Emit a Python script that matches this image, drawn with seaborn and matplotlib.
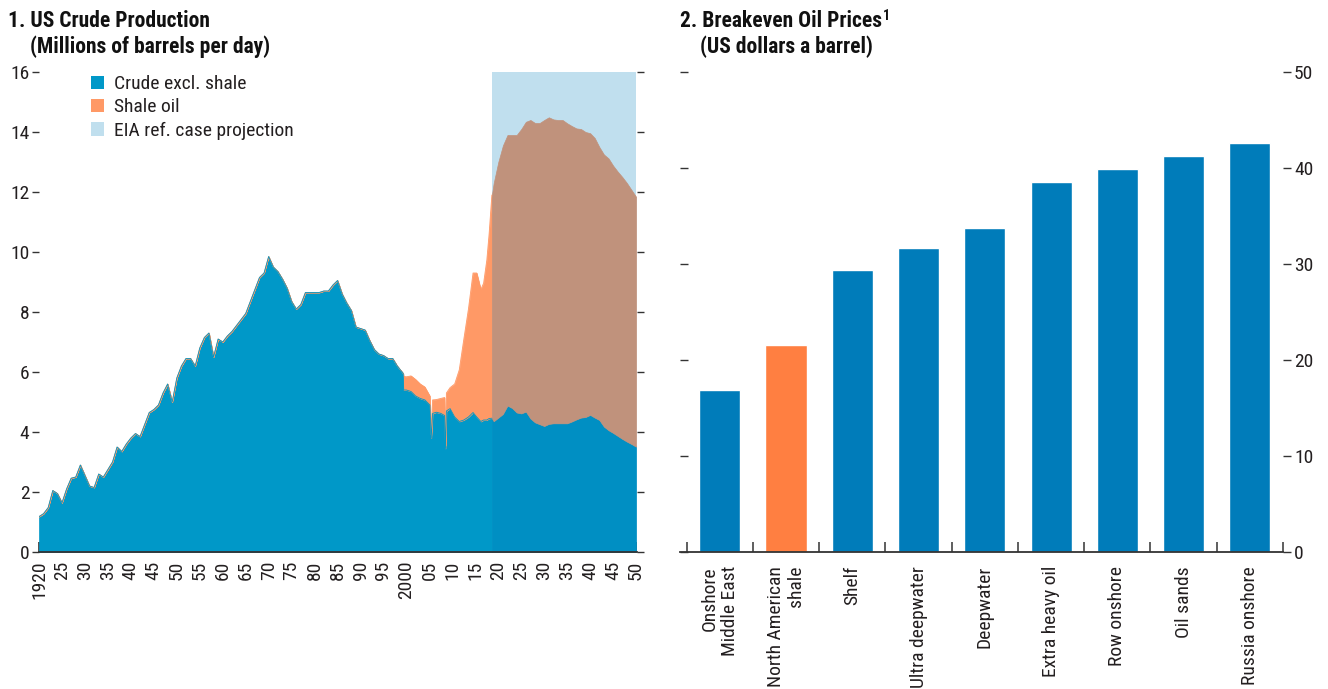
import numpy as np
import pandas as pd
import matplotlib
matplotlib.use("Agg")
import matplotlib.pyplot as plt
from matplotlib.patches import Patch
from matplotlib.ticker import FixedLocator
from matplotlib import font_manager as fm
import seaborn as sns

# ---------------- Panel 1 data: US crude production (mb/d) ----------------
hist_years = [1920, 1921, 1922, 1923, 1924, 1925, 1926, 1927, 1928, 1929,
              1930, 1931, 1932, 1933, 1934, 1935, 1936, 1937, 1938, 1939,
              1940, 1941, 1942, 1943, 1944, 1945, 1946, 1947, 1948, 1949,
              1950, 1951, 1952, 1953, 1954, 1955, 1956, 1957, 1958, 1959,
              1960, 1961, 1962, 1963, 1964, 1965, 1966, 1967, 1968, 1969,
              1970, 1971, 1972, 1973, 1974, 1975, 1976, 1977, 1978, 1979,
              1980, 1981, 1982, 1983, 1984, 1985, 1986, 1987, 1988, 1989,
              1990, 1991, 1992, 1993, 1994, 1995, 1996, 1997, 1998, 1999.3,
              1999.4, 2000, 2001, 2002, 2003, 2004, 2005.1, 2005.4, 2005.7, 2006.5,
              2007.5, 2008.3, 2008.5, 2008.7, 2009.5, 2010.5, 2011.5, 2012.5, 2013.5, 2014.5,
              2015.3, 2016.2, 2016.8, 2017.5, 2018.0, 2018.6]
crude_hist = [1.18, 1.28, 1.48, 2.05, 1.95, 1.64, 2.10, 2.46, 2.50, 2.90,
              2.55, 2.20, 2.15, 2.60, 2.50, 2.75, 3.00, 3.50, 3.35, 3.60,
              3.80, 3.95, 3.85, 4.25, 4.65, 4.75, 4.90, 5.30, 5.60, 5.00,
              5.80, 6.20, 6.45, 6.45, 6.20, 6.80, 7.15, 7.30, 6.50, 7.10,
              7.00, 7.20, 7.35, 7.55, 7.75, 7.95, 8.35, 8.75, 9.15, 9.30,
              9.85, 9.50, 9.35, 9.10, 8.80, 8.35, 8.10, 8.25, 8.65, 8.65,
              8.65, 8.65, 8.70, 8.70, 8.90, 9.05, 8.60, 8.30, 8.05, 7.50,
              7.45, 7.40, 7.05, 6.75, 6.60, 6.55, 6.45, 6.45, 6.20, 5.95,
              5.40, 5.40, 5.35, 5.20, 5.12, 5.07, 4.90, 3.80, 4.62, 4.66,
              4.62, 4.55, 3.45, 4.70, 4.78, 4.50, 4.35, 4.40, 4.50, 4.65,
              4.50, 4.35, 4.40, 4.40, 4.45, 4.46]
shale_hist = [0] * 79 + [0.0,
              0.45, 0.44, 0.52, 0.55, 0.48, 0.43, 0.30, 0.10, 0.45, 0.42,
              0.50, 0.60, 0.10, 0.60, 0.70, 1.10, 1.72, 2.70, 3.60, 4.65,
              4.80, 4.40, 4.56, 5.33, 6.15, 7.44]

proj_years = [2018.6, 2019, 2020, 2021, 2022, 2023, 2024, 2025, 2026, 2027,
              2028, 2029, 2030, 2031, 2032, 2033, 2034, 2035, 2036, 2037,
              2038, 2039, 2040, 2041, 2042, 2043, 2044, 2045, 2046, 2047,
              2048, 2049, 2050]
crude_proj = [4.46, 4.36, 4.48, 4.60, 4.88, 4.80, 4.65, 4.62, 4.68, 4.45,
              4.32, 4.26, 4.20, 4.27, 4.29, 4.29, 4.29, 4.29, 4.35, 4.42,
              4.48, 4.50, 4.57, 4.48, 4.40, 4.18, 4.06, 3.97, 3.87, 3.77,
              3.68, 3.60, 3.51]
shale_proj = [7.44, 7.94, 8.52, 8.95, 9.02, 9.10, 9.25, 9.48, 9.66, 9.95,
              9.98, 10.04, 10.20, 10.22, 10.13, 10.11, 10.11, 10.00, 9.85, 9.70,
              9.62, 9.50, 9.39, 9.32, 9.10, 9.07, 9.06, 8.91, 8.81, 8.73,
              8.62, 8.47, 8.33]

x_ticks = list(range(1920, 2051, 5))
x_ticklabels = ["1920", "25", "30", "35", "40", "45", "50", "55", "60", "65", "70",
                "75", "80", "85", "90", "95", "2000", "05", "10", "15", "20",
                "25", "30", "35", "40", "45", "50"]
y1_ticks = [0, 2, 4, 6, 8, 10, 12, 14, 16]
legend_labels = ["Crude excl. shale", "Shale oil", "EIA ref. case projection"]

# ---------------- Panel 2 data: breakeven oil prices ----------------
categories = ["Onshore\nMiddle East", "North American\nshale", "Shelf",
              "Ultra deepwater", "Deepwater", "Extra heavy oil",
              "Row onshore", "Oil sands", "Russia onshore"]
breakeven = [16.9, 21.6, 29.4, 31.7, 33.8, 38.5, 39.9, 41.3, 42.6]
y2_ticks = [0, 10, 20, 30, 40, 50]

# ---------------- Styling ----------------
BLUE = "#0098C8"
BLUE_PROJ = "#008FC3"
ORANGE = "#FF9966"
BROWN = "#C0927C"
LIGHTBLUE = "#C0DFEE"
BAR_BLUE = "#007CBA"
BAR_ORANGE = "#FF7F41"
TXT = "#231F20"
AX = "#333333"

sns.set_theme(style="white")
names = {f.name for f in fm.fontManager.ttflist}
fam_list = []
for cand in ["Liberation Sans Narrow", "Roboto Condensed", "Open Sans Condensed"]:
    if cand in names:
        fam_list.append(cand)
fam_list.append("DejaVu Sans")
plt.rcParams["font.family"] = fam_list
plt.rcParams["font.stretch"] = "condensed"
plt.rcParams["axes.facecolor"] = "none"

W, H = 1328, 689
fig = plt.figure(figsize=(W / 100, H / 100), dpi=100)


def px_axes(left, right, top, bottom):
    return fig.add_axes([left / W, 1 - bottom / H, (right - left) / W, (bottom - top) / H])


FS = 14

# ---------------- Panel 1 ----------------
ax1 = px_axes(39, 637, 72, 552)
hy = np.array(hist_years)
ch = np.array(crude_hist)
sh = np.array(shale_hist)
py = np.array(proj_years)
cp = np.array(crude_proj)
sp = np.array(shale_proj)

ax1.axvspan(py[0], py[-1], ymin=0, ymax=1, color=LIGHTBLUE, lw=0, zorder=0)
ax1.fill_between(hy, 0, ch, facecolor=BLUE, edgecolor=BLUE, lw=0.5, zorder=2)
ax1.fill_between(hy, ch, ch + sh, facecolor=ORANGE, edgecolor=ORANGE, lw=0.5, zorder=2)
ax1.fill_between(py, 0, cp, facecolor=BLUE_PROJ, edgecolor=BLUE_PROJ, lw=0.5, zorder=2.5)
ax1.fill_between(py, cp, cp + sp, facecolor=BROWN, edgecolor=BROWN, lw=0.5, zorder=2.5)
sns.lineplot(x=hy, y=ch + sh, ax=ax1, color=ORANGE, lw=0.6, zorder=3)
sns.lineplot(x=hy, y=ch, ax=ax1, color=BLUE, lw=0.6, zorder=3)

ax1.set_xlim(1920, 2050.2)
ax1.set_ylim(0, 16)
ax1.set_xticks(x_ticks)
ax1.set_xticklabels(x_ticklabels, rotation=90, fontsize=FS, color=TXT, va="top")
ax1.set_yticks(y1_ticks)
ax1.set_yticklabels([str(v) for v in y1_ticks], fontsize=FS, color=TXT)
ax1.tick_params(axis="x", direction="in", length=7, width=1.2, color=AX, pad=6, bottom=True)
ax1.tick_params(axis="y", direction="out", length=5, width=1.0, color=AX, pad=2,
                left=True, right=True, labelright=False)
for s in ["top", "left", "right"]:
    ax1.spines[s].set_visible(False)
ax1.spines["bottom"].set_color(AX)
ax1.spines["bottom"].set_linewidth(1.3)
ax1.spines["bottom"].set_zorder(5)
ax1.set_xlabel("")
ax1.set_ylabel("")
ax1.grid(False)

handles = [Patch(facecolor=BLUE, edgecolor="none"),
           Patch(facecolor=ORANGE, edgecolor="none"),
           Patch(facecolor=LIGHTBLUE, edgecolor="none")]
leg = ax1.legend(handles, legend_labels, loc="upper left",
                 bbox_to_anchor=(91 / W, 1 - 75 / H), bbox_transform=fig.transFigure,
                 frameon=False, fontsize=FS, handlelength=0.68, handleheight=0.68,
                 handletextpad=0.5, labelspacing=0.28, borderpad=0, borderaxespad=0)
for t in leg.get_texts():
    t.set_color(TXT)

# ---------------- Panel 2 ----------------
ax2 = px_axes(680, 1283, 72, 552)
df2 = pd.DataFrame({"category": categories, "value": breakeven})
bar_colors = [BAR_BLUE, BAR_ORANGE] + [BAR_BLUE] * 7
sns.barplot(data=df2, x="category", y="value", hue="category", order=categories,
            hue_order=categories, palette=bar_colors, saturation=1, width=0.62,
            legend=False, ax=ax2, zorder=2)
ax2.set_xlim(-0.6, 8.5)
ax2.set_ylim(0, 50)
ax2.set_xlabel("")
ax2.set_ylabel("")
ax2.grid(False)
ax2.set_xticks(range(len(categories)))
ax2.set_xticklabels(categories, rotation=90, fontsize=FS, color=TXT, va="top",
                    ha="center", multialignment="right", linespacing=1.15)
ax2.xaxis.set_minor_locator(FixedLocator([i - 0.5 for i in range(len(categories) + 1)]))
ax2.tick_params(axis="x", which="major", length=0, pad=10)
ax2.tick_params(axis="x", which="minor", direction="in", length=7, width=1.1, color=AX, bottom=True)
ax2.set_yticks(y2_ticks)
ax2.tick_params(axis="y", direction="in", length=6, width=1.0, color=AX,
                left=True, right=False, labelleft=False)
for s in ["top", "left", "right"]:
    ax2.spines[s].set_visible(False)
ax2.spines["bottom"].set_color(AX)
ax2.spines["bottom"].set_linewidth(1.3)

ax2r = ax2.twinx()
ax2r.set_ylim(0, 50)
ax2r.set_yticks(y2_ticks)
ax2r.set_yticklabels([str(v) for v in y2_ticks], fontsize=FS, color=TXT)
ax2r.tick_params(axis="y", direction="out", length=6, width=1.0, color=AX, pad=2,
                 right=True, left=False)
for s in ["top", "left", "right", "bottom"]:
    ax2r.spines[s].set_visible(False)
ax2r.grid(False)

# ---------------- Titles ----------------
TFS = 15.5
fig.text(8 / W, 1 - 27 / H, "1. US Crude Production", fontsize=TFS, fontweight="bold",
         color="#111111", va="baseline", ha="left")
fig.text(30 / W, 1 - 53 / H, "(Millions of barrels per day)", fontsize=TFS, fontweight="bold",
         color="#111111", va="baseline", ha="left")
t2 = fig.text(680 / W, 1 - 27 / H, "2. Breakeven Oil Prices", fontsize=TFS, fontweight="bold",
              color="#111111", va="baseline", ha="left")
fig.text(700 / W, 1 - 53 / H, "(US dollars a barrel)", fontsize=TFS, fontweight="bold",
         color="#111111", va="baseline", ha="left")

fig.canvas.draw()
bb = t2.get_window_extent()
fig.text((bb.x1 + 1) / W, (H - 20) / H, "1", fontsize=10, fontweight="bold",
         color="#111111", va="baseline", ha="left")

fig.savefig("out.png", dpi=100)
